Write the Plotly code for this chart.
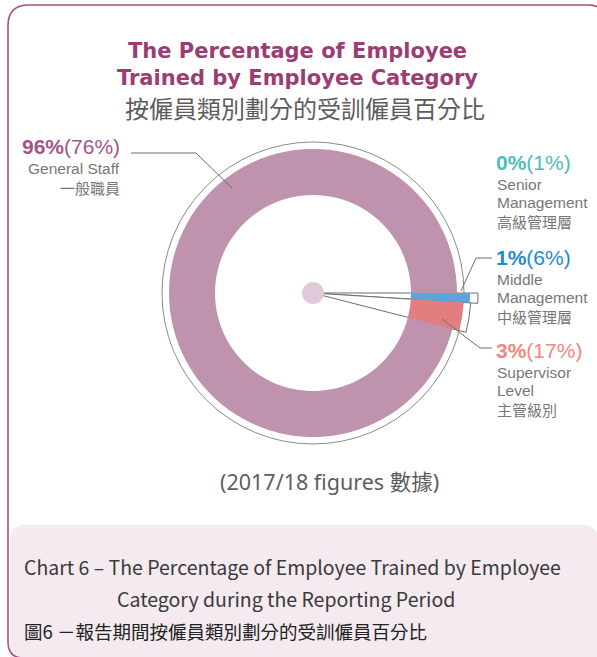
import plotly.graph_objects as go

# ---------------- data ----------------
categories = ["Senior Management", "Middle Management", "Supervisor Level", "General Staff"]
trained_pct = [0, 1, 3, 96]          # % of employees trained (bold figure)
workforce_pct = [1, 6, 17, 76]       # figure in brackets
label_en = [["Senior", "Management"], ["Middle", "Management"], ["Supervisor", "Level"], ["General Staff"]]
label_zh = ["高級管理層", "中級管理層", "主管級別", "一般職員"]

slice_colors = ["#4dbdbd", "#5aa6da", "#e27e80", "#bf93ae"]
label_colors = ["#4dbdbd", "#1f8bcf", "#f0887e", "#a5548a"]

title_en = ["The Percentage of Employee", "Trained by Employee Category"]
title_zh = "按僱員類別劃分的受訓僱員百分比"
note = "(2017/18 figures 數據)"
caption = ["Chart 6 – The Percentage of Employee Trained by Employee",
           "Category during the Reporting Period",
           "圖6 －報告期間按僱員類別劃分的受訓僱員百分比"]

# ---------------- layout helpers ----------------
W, H = 597, 657
CX, CY = 313, 293
TRANS = "rgba(0,0,0,0)"
GREY_LINE = "#6e6e6e"


def dom(r):
    return dict(x=[(CX - r) / W, (CX + r) / W], y=[1 - (CY + r) / H, 1 - (CY - r) / H])


def pie(r, inner, colors, line_w=None, line_c=None):
    n = len(trained_pct)
    return go.Pie(
        labels=categories, values=trained_pct, sort=False, direction="clockwise",
        rotation=90, hole=inner / r, domain=dom(r), textinfo="none",
        hoverinfo="label+value", showlegend=False,
        marker=dict(colors=colors,
                    line=dict(width=line_w if line_w else [0] * n,
                              color=line_c if line_c else [TRANS] * n)),
    )


fig = go.Figure()
# invisible cartesian frame in pixel units for shapes/annotations
fig.add_trace(go.Scatter(x=[], y=[], showlegend=False, hoverinfo="skip"))

# outline wedges (white fill, grey border) for the small categories
fig.add_trace(pie(165, 0.001, [TRANS, "white", TRANS, TRANS],
                  [0, 1, 0, 0], [TRANS, GREY_LINE, TRANS, TRANS]))
fig.add_trace(pie(158, 0.001, [TRANS, TRANS, "white", TRANS],
                  [0, 0, 1, 0], [TRANS, TRANS, GREY_LINE, TRANS]))
# main ring
fig.add_trace(pie(144, 98, [slice_colors[0], TRANS, TRANS, slice_colors[3]]))
# middle management slice (longer)
fig.add_trace(pie(157, 98, [TRANS, slice_colors[1], TRANS, TRANS]))
# supervisor slice
fig.add_trace(pie(151, 98, [TRANS, TRANS, slice_colors[2], TRANS]))

shapes = []
# outer frame and caption box
shapes.append(dict(type="path", layer="below",
                   path="M 10,656 L 10,540 Q 10,525 25,525 L 582,525 Q 598,525 598,540 L 598,670 L 10,670 Z",
                   fillcolor="#f4eaf0", line=dict(width=0)))
shapes.append(dict(type="path", layer="above",
                   path="M 24,658 Q 8,658 8,642 L 8,26 Q 8,5 29,5 L 588,5 Q 606,5 606,23 L 606,700",
                   line=dict(color="#a64f86", width=1.6)))
# thin outer circle
R_THIN = 151
shapes.append(dict(type="circle", layer="below", x0=CX - R_THIN, x1=CX + R_THIN,
                   y0=CY - R_THIN, y1=CY + R_THIN, line=dict(color="#8a8a8a", width=1),
                   fillcolor="white"))
# centre dot
shapes.append(dict(type="circle", layer="above", x0=CX - 11, x1=CX + 11, y0=CY - 11, y1=CY + 11,
                   line=dict(width=0), fillcolor="#e2c9d9"))
# leader lines
for p in ["M 131,153 L 196,153 L 232,188",
          "M 492,258 L 476,258 L 461,291",
          "M 442,319 L 480,348 L 492,348"]:
    shapes.append(dict(type="path", layer="above", path=p, line=dict(color=GREY_LINE, width=1)))

ann = []


def txt(x, y, s, size, color, family, xanchor="left"):
    ann.append(dict(x=x, y=y, text=s, showarrow=False, xanchor=xanchor, yanchor="middle",
                    font=dict(size=size, color=color, family=family)))


TIT = "DejaVu Sans"
ARI = "Liberation Sans, Arial"
CJK = "Noto Sans CJK TC"
NOTE = "Noto Sans, Noto Sans CJK TC"

# title (two lines in one text block)
txt(297, 64, "<b>" + title_en[0] + "<br>" + title_en[1] + "</b>", 21, "#9b3d72", TIT, "center")
txt(305, 107, title_zh, 24, "#5c5c5c", CJK, "center")

# left label (General Staff)
i = 3
txt(122, 146, f"<b>{trained_pct[i]}%</b>({workforce_pct[i]}%)", 21, label_colors[i], ARI, "right")
txt(122, 168, label_en[i][0], 15.5, "#777777", ARI, "right")
txt(122, 187, label_zh[i], 15, "#777777", CJK, "right")

# right labels
tops = [162, 257, 350]
for i, y0 in zip([0, 1, 2], tops):
    txt(494, y0, f"<b>{trained_pct[i]}%</b>({workforce_pct[i]}%)", 21, label_colors[i], ARI)
    y = y0 + 22
    for line in label_en[i]:
        txt(495, y, line, 15.5, "#777777", ARI)
        y += 18.5
    txt(495, y, label_zh[i], 15, "#777777", CJK)

# note
txt(329, 481, note, 21.5, "#5e5e5e", NOTE, "center")

# caption
txt(22, 566, caption[0], 19.5, "#3a3a3a", CJK)
txt(115, 598, caption[1], 19.5, "#3a3a3a", CJK)
txt(22, 631, caption[2], 18.5, "#222222", CJK)

fig.update_layout(
    width=W, height=H, margin=dict(l=0, r=0, t=0, b=0),
    paper_bgcolor="white", plot_bgcolor="rgba(0,0,0,0)",
    xaxis=dict(range=[0, W], visible=False, fixedrange=True),
    yaxis=dict(range=[H, 0], visible=False, fixedrange=True),
    shapes=shapes, annotations=ann, showlegend=False,
)

fig.write_html("out.html", config={"displayModeBar": False},
               post_script="document.body.style.margin='0';document.body.style.overflow='hidden';")
